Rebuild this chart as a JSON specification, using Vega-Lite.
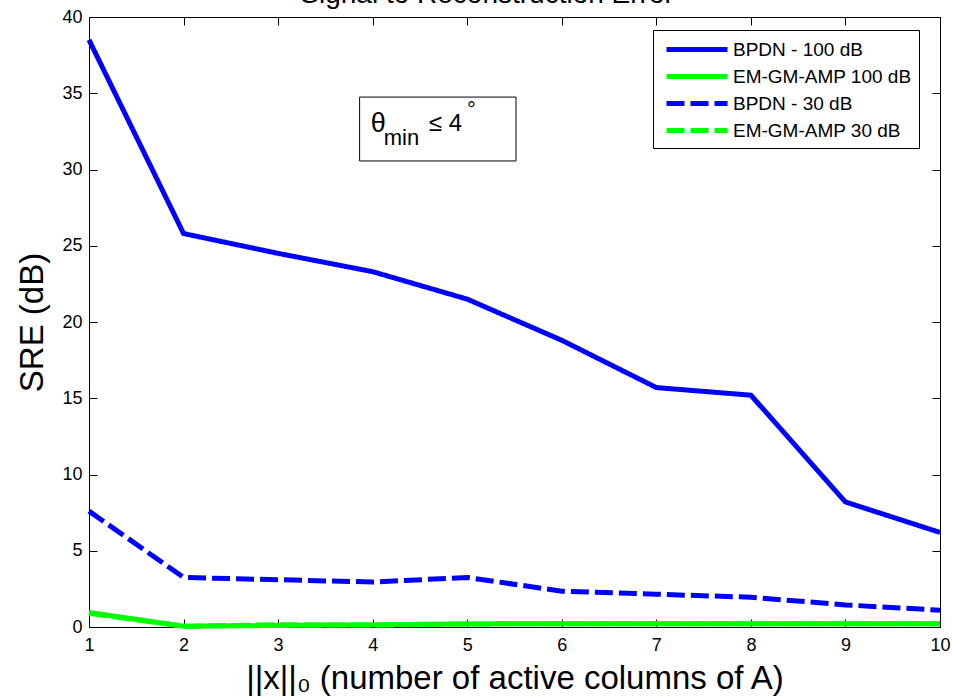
{
  "$schema": "https://vega.github.io/schema/vega-lite/v6.json",
  "width": 851,
  "height": 610,
  "autosize": {"type": "none"},
  "padding": {"left": 89, "top": 17, "right": 13, "bottom": 73},
  "background": "white",
  "datasets": {
    "sre": [
      {"k": 1, "series": "BPDN - 100 dB", "sre": 38.5},
      {"k": 2, "series": "BPDN - 100 dB", "sre": 25.8},
      {"k": 3, "series": "BPDN - 100 dB", "sre": 24.5},
      {"k": 4, "series": "BPDN - 100 dB", "sre": 23.3},
      {"k": 5, "series": "BPDN - 100 dB", "sre": 21.5},
      {"k": 6, "series": "BPDN - 100 dB", "sre": 18.8},
      {"k": 7, "series": "BPDN - 100 dB", "sre": 15.7},
      {"k": 8, "series": "BPDN - 100 dB", "sre": 15.2},
      {"k": 9, "series": "BPDN - 100 dB", "sre": 8.2},
      {"k": 10, "series": "BPDN - 100 dB", "sre": 6.2},
      {"k": 1, "series": "EM-GM-AMP 100 dB", "sre": 0.95},
      {"k": 2, "series": "EM-GM-AMP 100 dB", "sre": 0.05},
      {"k": 3, "series": "EM-GM-AMP 100 dB", "sre": 0.1},
      {"k": 4, "series": "EM-GM-AMP 100 dB", "sre": 0.15},
      {"k": 5, "series": "EM-GM-AMP 100 dB", "sre": 0.2},
      {"k": 6, "series": "EM-GM-AMP 100 dB", "sre": 0.22},
      {"k": 7, "series": "EM-GM-AMP 100 dB", "sre": 0.22},
      {"k": 8, "series": "EM-GM-AMP 100 dB", "sre": 0.22},
      {"k": 9, "series": "EM-GM-AMP 100 dB", "sre": 0.22},
      {"k": 10, "series": "EM-GM-AMP 100 dB", "sre": 0.22},
      {"k": 1, "series": "BPDN - 30 dB", "sre": 7.6},
      {"k": 2, "series": "BPDN - 30 dB", "sre": 3.25},
      {"k": 3, "series": "BPDN - 30 dB", "sre": 3.1},
      {"k": 4, "series": "BPDN - 30 dB", "sre": 2.95},
      {"k": 5, "series": "BPDN - 30 dB", "sre": 3.25},
      {"k": 6, "series": "BPDN - 30 dB", "sre": 2.35},
      {"k": 7, "series": "BPDN - 30 dB", "sre": 2.15},
      {"k": 8, "series": "BPDN - 30 dB", "sre": 1.95},
      {"k": 9, "series": "BPDN - 30 dB", "sre": 1.45},
      {"k": 10, "series": "BPDN - 30 dB", "sre": 1.1},
      {"k": 1, "series": "EM-GM-AMP 30 dB", "sre": 0.9},
      {"k": 2, "series": "EM-GM-AMP 30 dB", "sre": 0.05},
      {"k": 3, "series": "EM-GM-AMP 30 dB", "sre": 0.15},
      {"k": 4, "series": "EM-GM-AMP 30 dB", "sre": 0.12},
      {"k": 5, "series": "EM-GM-AMP 30 dB", "sre": 0.2},
      {"k": 6, "series": "EM-GM-AMP 30 dB", "sre": 0.22},
      {"k": 7, "series": "EM-GM-AMP 30 dB", "sre": 0.22},
      {"k": 8, "series": "EM-GM-AMP 30 dB", "sre": 0.22},
      {"k": 9, "series": "EM-GM-AMP 30 dB", "sre": 0.22},
      {"k": 10, "series": "EM-GM-AMP 30 dB", "sre": 0.22}
    ],
    "box": [{"x1": 3.862, "x2": 5.516, "y1": 30.56, "y2": 34.75}],
    "ttl": [{"x": 5.21, "y": 40.92, "t": "Signal to Reconstruction Error"}],
    "theta": [{"x": 3.979, "y": 32.46, "t": "θ"}],
    "sub": [{"x": 4.117, "y": 31.61, "t": "min"}],
    "rel": [{"x": 4.594, "y": 32.52, "t": "≤ 4"}],
    "deg": [{"x": 4.997, "y": 33.44, "t": "°"}]
  },
  "layer": [
    {
      "data": {"name": "sre"},
      "mark": {"type": "line", "strokeWidth": 5},
      "encoding": {
        "x": {
          "field": "k", "type": "quantitative",
          "scale": {"domain": [1, 10], "nice": false, "zero": false},
          "axis": {"orient": "bottom", "values": [1,2,3,4,5,6,7,8,9,10], "title": "||x||₀ (number of active columns of A)", "labelPadding": 17, "titlePadding": 8, "labelFlush": false}
        },
        "y": {
          "field": "sre", "type": "quantitative",
          "scale": {"domain": [0, 40], "nice": false, "zero": false},
          "axis": {"orient": "left", "values": [0,5,10,15,20,25,30,35,40], "title": "SRE (dB)", "labelPadding": 15, "titlePadding": 12}
        },
        "color": {
          "field": "series", "type": "nominal",
          "scale": {"domain": ["BPDN - 100 dB", "EM-GM-AMP 100 dB", "BPDN - 30 dB", "EM-GM-AMP 30 dB"], "range": ["#0000ff", "#00ff00", "#0000ff", "#00ff00"]},
          "legend": {"title": null}
        },
        "strokeDash": {
          "field": "series", "type": "nominal",
          "scale": {"domain": ["BPDN - 100 dB", "EM-GM-AMP 100 dB", "BPDN - 30 dB", "EM-GM-AMP 30 dB"], "range": [[1, 0], [1, 0], [18, 6], [18, 6]]},
          "legend": {"title": null}
        }
      }
    },
    {
      "data": {"name": "sre"},
      "mark": {"type": "point", "opacity": 0},
      "encoding": {
        "x": {"field": "k", "type": "quantitative", "axis": {"orient": "top", "values": [1,2,3,4,5,6,7,8,9,10], "labels": false, "title": null}},
        "y": {"field": "sre", "type": "quantitative", "axis": {"orient": "right", "values": [0,5,10,15,20,25,30,35,40], "labels": false, "title": null}}
      }
    },
    {
      "data": {"name": "box"},
      "mark": {"type": "rect", "fill": "white", "fillOpacity": 0, "stroke": "black", "strokeWidth": 1},
      "encoding": {
        "x": {"field": "x1", "type": "quantitative", "axis": null},
        "x2": {"field": "x2"},
        "y": {"field": "y1", "type": "quantitative", "axis": null},
        "y2": {"field": "y2"}
      }
    },
    {
      "data": {"name": "ttl"},
      "mark": {"type": "text", "font": "Liberation Sans", "fontSize": 28, "align": "center", "baseline": "alphabetic", "color": "black", "clip": false},
      "encoding": {
        "x": {"field": "x", "type": "quantitative", "axis": null},
        "y": {"field": "y", "type": "quantitative", "axis": null},
        "text": {"field": "t"}
      }
    },
    {
      "data": {"name": "theta"},
      "mark": {"type": "text", "font": "Liberation Sans", "fontSize": 27, "align": "left", "baseline": "alphabetic", "color": "black"},
      "encoding": {
        "x": {"field": "x", "type": "quantitative", "axis": null},
        "y": {"field": "y", "type": "quantitative", "axis": null},
        "text": {"field": "t"}
      }
    },
    {
      "data": {"name": "sub"},
      "mark": {"type": "text", "font": "Liberation Sans", "fontSize": 22, "align": "left", "baseline": "alphabetic", "color": "black"},
      "encoding": {
        "x": {"field": "x", "type": "quantitative", "axis": null},
        "y": {"field": "y", "type": "quantitative", "axis": null},
        "text": {"field": "t"}
      }
    },
    {
      "data": {"name": "rel"},
      "mark": {"type": "text", "font": "Liberation Sans", "fontSize": 24, "align": "left", "baseline": "alphabetic", "color": "black"},
      "encoding": {
        "x": {"field": "x", "type": "quantitative", "axis": null},
        "y": {"field": "y", "type": "quantitative", "axis": null},
        "text": {"field": "t"}
      }
    },
    {
      "data": {"name": "deg"},
      "mark": {"type": "text", "font": "Liberation Sans", "fontSize": 22, "align": "left", "baseline": "alphabetic", "color": "black"},
      "encoding": {
        "x": {"field": "x", "type": "quantitative", "axis": null},
        "y": {"field": "y", "type": "quantitative", "axis": null},
        "text": {"field": "t"}
      }
    }
  ],
  "resolve": {"axis": {"x": "independent", "y": "independent"}},
  "config": {
    "font": "Liberation Sans",
    "view": {"stroke": null},
    "axis": {
      "grid": false,
      "domainColor": "black",
      "domainWidth": 1,
      "tickColor": "black",
      "tickWidth": 1,
      "tickSize": -8,
      "labelFont": "Liberation Sans",
      "labelFontSize": 18,
      "labelColor": "black",
      "titleFont": "Liberation Sans",
      "titleFontSize": 33,
      "titleFontWeight": "normal",
      "titleColor": "black"
    },
    "legend": {
      "orient": "none",
      "legendX": 564,
      "legendY": 13,
      "strokeColor": "black",
      "fillColor": "white",
      "padding": 7,
      "labelFont": "Liberation Sans",
      "labelFontSize": 19,
      "labelColor": "black",
      "labelOffset": 48,
      "symbolType": "M-0.6,0H5.5",
      "symbolSize": 400,
      "symbolStrokeWidth": 5,
      "rowPadding": 4,
      "labelLimit": 400
    }
  }
}
